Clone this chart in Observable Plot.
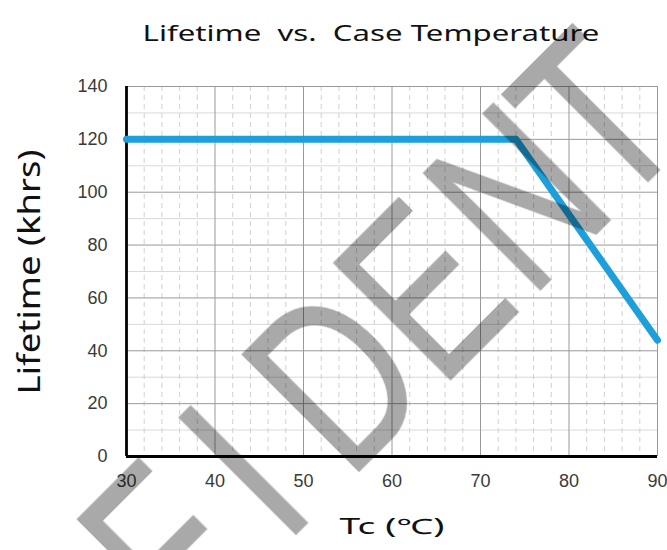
<!DOCTYPE html>
<html>
<head>
<meta charset="utf-8">
<script src="https://cdn.jsdelivr.net/npm/d3@7"></script>
<script src="https://cdn.jsdelivr.net/npm/@observablehq/plot@0.6"></script>
<style>
  html, body { margin: 0; padding: 0; background: #fff; }
  #wrap { position: relative; width: 667px; height: 550px; overflow: hidden; }
  #chart { position: absolute; left: 0; top: 0; }
  #labels, #wm { position: absolute; left: 0; top: 0; pointer-events: none; }
</style>
</head>
<body>
<div id="wrap">
  <div id="chart"></div>
  <svg id="labels" width="667" height="550"></svg>
  <svg id="wm" width="667" height="550"></svg>
</div>
<script>
// ---- data ----
const titleText = "Lifetime  vs.  Case Temperature";
const xLabel = "Tc (℃)";
const yLabel = "Lifetime (khrs)";
const tc = [30, 74, 90];          // case temperature (°C)
const lifetime = [120, 120, 44];  // lifetime (khrs)
const xTicks = [30, 40, 50, 60, 70, 80, 90];
const yTicks = [0, 20, 40, 60, 80, 100, 120, 140];
const xMinor = [32,34,36,38,42,44,46,48,52,54,56,58,62,64,66,68,72,74,76,78,82,84,86,88];
const yMinor = [10, 30, 50, 70, 90, 110, 130];
const watermark = ["F", "I", "D", "E", "N", "T"];
const watermarkPos = [-327, -185, -94, 35.5, 162.5, 284];

const data = tc.map((t, i) => ({tc: t, life: lifetime[i]}));

const chart = Plot.plot({
  width: 667,
  height: 550,
  marginTop: 86,
  marginBottom: 94,
  marginLeft: 126,
  marginRight: 10,
  style: {fontFamily: "'Liberation Sans', Arial, sans-serif", background: "transparent"},
  x: {domain: [30, 90], ticks: xTicks},
  y: {domain: [0, 140], ticks: yTicks},
  marks: [
    Plot.gridX(xMinor, {stroke: "#c4c4c4", strokeOpacity: 1, strokeWidth: 0.8, strokeDasharray: "5,4"}),
    Plot.gridY(yMinor, {stroke: "#cfcfcf", strokeOpacity: 1, strokeWidth: 0.8}),
    Plot.gridX(xTicks.slice(1), {stroke: "#999", strokeOpacity: 1, strokeWidth: 1}),
    Plot.gridY(yTicks.slice(1), {stroke: "#999", strokeOpacity: 1, strokeWidth: 1}),
    Plot.axisX(xTicks, {tickSize: 0, tickPadding: 18, fontSize: 18, fill: "#3a3a3a", label: null}),
    Plot.axisY(yTicks, {tickSize: 0, tickPadding: 19, fontSize: 18, fill: "#3a3a3a", label: null}),
    Plot.ruleX([30], {stroke: "#000", strokeWidth: 2.8}),
    Plot.ruleY([0], {stroke: "#000", strokeWidth: 2.8}),
    Plot.line(data, {x: "tc", y: "life", stroke: "#1c9fda", strokeWidth: 7, strokeLinejoin: "round"})
  ]
});
document.getElementById("chart").appendChild(chart);

// title and axis labels (scaled to the reference's wide lettering)
const lab = d3.select("#labels");
function label(text, x, y, size, targetLen, rotate) {
  const t = lab.append("text")
    .attr("font-family", "'Noto Sans', 'Open Sans', sans-serif")
    .attr("font-size", size)
    .attr("fill", "#111")
    .attr("text-anchor", "middle")
    .style("white-space", "pre")
    .text(text);
  const len = t.node().getComputedTextLength();
  const k = targetLen / len;
  t.attr("transform", `translate(${x},${y}) rotate(${rotate}) scale(${k},1)`);
}
label(titleText, 371, 41, 22.5, 457, 0);
label(xLabel, 392, 534, 21, 105, 0);
label(yLabel, 40, 272, 30, 245, -90);

// watermark overlay (semi-transparent rotated letters)
const wm = d3.select("#wm");
const g = wm.append("g").attr("transform", "rotate(-45)").attr("opacity", 0.34);
watermark.forEach((ch, i) => {
  g.append("text")
    .attr("transform", `translate(${watermarkPos[i]},587) scale(0.7375,1)`)
    .attr("font-family", "'Liberation Sans', Arial, sans-serif")
    .attr("font-size", 240)
    .attr("fill", "#000")
    .attr("stroke", "#000")
    .attr("stroke-width", 1.5)
    .text(ch);
});
</script>
</body>
</html>
